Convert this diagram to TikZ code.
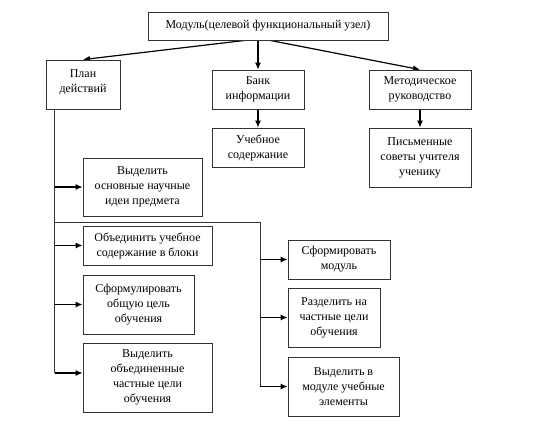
\documentclass[tikz,border=0pt]{standalone}
\usepackage{fontspec}
\setmainfont{Liberation Serif}
\usetikzlibrary{arrows.meta}
\pgfdeclarelayer{edgelayer}
\pgfdeclarelayer{nodelayer}
\pgfsetlayers{edgelayer,nodelayer,main}
\tikzstyle{block}=[rectangle,fill=white,draw=black!80,line width=0.8pt,align=center,inner sep=2pt,font=\fontsize{12}{15}\selectfont]
\tikzstyle{link}=[-{Latex[length=7pt,width=6pt]},draw=black,line width=1.2pt]
\tikzstyle{trunk}=[draw=black!80,line width=0.9pt]

\begin{document}
\begin{tikzpicture}[x=1pt,y=-1pt]
	\useasboundingbox (0,0) rectangle (553,427);
	\begin{pgfonlayer}{nodelayer}
		\node [style=block, minimum width=240pt, minimum height=28pt] (0) at (268, 26) {Модуль(целевой функциональный узел)};
		\node [style=block, minimum width=74pt, minimum height=49pt, text depth=7pt] (1) at (83, 84.5) {План\\действий};
		\node [style=block, minimum width=92pt, minimum height=39pt] (2) at (258, 89.5) {Банк\\информации};
		\node [style=block, minimum width=102pt, minimum height=39pt] (3) at (420, 89.5) {Методическое\\руководство};
		\node [style=block, minimum width=92pt, minimum height=39pt] (4) at (258, 147.5) {Учебное\\содержание};
		\node [style=block, minimum width=102pt, minimum height=59pt] (5) at (420, 157.5) {Письменные\\советы учителя\\ученику};
		\node [style=block, minimum width=119pt, minimum height=58pt] (6) at (142.5, 187) {Выделить\\основные научные\\идеи предмета};
		\node [style=block, minimum width=129pt, minimum height=39pt] (7) at (147.5, 245.5) {Объединить учебное\\содержание в блоки};
		\node [style=block, minimum width=111pt, minimum height=59pt] (8) at (138.5, 304.5) {Сформулировать\\общую цель\\обучения};
		\node [style=block, minimum width=129pt, minimum height=69pt] (9) at (147.5, 377.5) {Выделить\\объединенные\\частные цели\\обучения};
		\node [style=block, minimum width=102pt, minimum height=39pt] (10) at (339, 259.5) {Сформировать\\модуль};
		\node [style=block, minimum width=92pt, minimum height=59pt] (11) at (334, 317.5) {Разделить на\\частные цели\\обучения};
		\node [style=block, minimum width=111pt, minimum height=59pt] (12) at (343.5, 386.5) {Выделить в\\модуле учебные\\элементы};
	\end{pgfonlayer}
	\coordinate (t) at ([xshift=9pt]1.south west);
	\coordinate (b) at (260, 222);
	\coordinate (e9) at ([yshift=4.5pt]9.west);
	\begin{pgfonlayer}{edgelayer}
		\draw [style=link] ([xshift=-23pt]0.south) to (1.north);
		\draw [style=link] (0.south -| 2.north) to (2.north);
		\draw [style=link] ([xshift=2pt]0.south) to (3.north);
		\draw [style=link] (2.south) to (4.north);
		\draw [style=link] (3.south) to (5.north);
		\draw [style=trunk] (t) -- (t |- e9);
		\draw [style=trunk] (t |- b) -- (b) -- (b |- 12.west);
		\draw [style=link] (t |- 6.west) to (6.west);
		\draw [style=link] (t |- 7.west) to (7.west);
		\draw [style=link] (t |- 8.west) to (8.west);
		\draw [style=link] (e9 -| t) to (e9);
		\draw [style=link] (b |- 10.west) to (10.west);
		\draw [style=link] (b |- 11.west) to (11.west);
		\draw [style=link] (b |- 12.west) to (12.west);
	\end{pgfonlayer}
\end{tikzpicture}
\end{document}
